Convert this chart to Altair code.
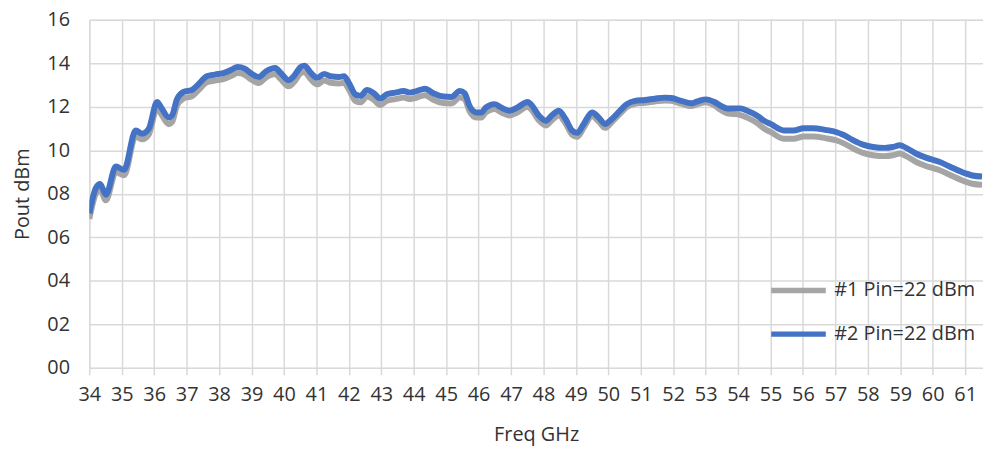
import altair as alt
import pandas as pd

freq = [34.0, 34.2, 34.33, 34.51, 34.82, 35.07, 35.43, 35.63, 35.83, 36.09, 36.2, 36.45, 36.55, 36.7, 36.9,
        37.16, 37.36, 37.62, 37.87, 38.13, 38.38, 38.57, 38.79, 38.97, 39.22, 39.45, 39.73, 39.9, 40.14, 40.3,
        40.52, 40.63, 40.83, 41.03, 41.24, 41.44, 41.7, 41.85, 42.0, 42.2, 42.36, 42.56, 42.77, 42.97, 43.17,
        43.43, 43.69, 43.89, 44.09, 44.35, 44.6, 44.91, 45.16, 45.42, 45.57, 45.72, 45.93, 46.08, 46.23, 46.49,
        46.69, 46.95, 47.2, 47.51, 47.61, 47.86, 48.07, 48.27, 48.47, 48.68, 48.88, 49.04, 49.24, 49.5, 49.7,
        49.9, 50.11, 50.36, 50.57, 50.82, 51.13, 51.43, 51.74, 51.94, 52.25, 52.55, 52.75, 53.01, 53.27, 53.47,
        53.67, 54.08, 54.28, 54.59, 54.8, 55.0, 55.41, 55.71, 56.02, 56.32, 56.68, 57.04, 57.24, 57.55, 57.85,
        58.16, 58.52, 58.77, 58.98, 59.18, 59.48, 59.79, 60.2, 60.6, 61.01, 61.22, 61.52]

pout2 = [7.1, 8.26, 8.45, 7.96, 9.25, 9.1, 10.91, 10.76, 10.98, 12.22, 12.0, 11.51, 11.6, 12.34, 12.68,
         12.77, 13.03, 13.4, 13.48, 13.55, 13.7, 13.83, 13.75, 13.55, 13.37, 13.63, 13.78, 13.55, 13.22, 13.4,
         13.83, 13.89, 13.55, 13.33, 13.51, 13.4, 13.37, 13.4, 13.1, 12.57, 12.5, 12.77, 12.62, 12.38, 12.57,
         12.65, 12.72, 12.65, 12.72, 12.83, 12.62, 12.47, 12.45, 12.72, 12.62, 12.04, 11.74, 11.74, 11.97, 12.12,
         11.97, 11.82, 11.97, 12.22, 12.12, 11.59, 11.36, 11.62, 11.82, 11.44, 10.91, 10.8, 11.21, 11.74, 11.51,
         11.21, 11.44, 11.82, 12.12, 12.27, 12.31, 12.37, 12.42, 12.4, 12.27, 12.16, 12.25, 12.34, 12.22, 12.04,
         11.92, 11.92, 11.82, 11.59, 11.36, 11.21, 10.91, 10.91, 11.01, 11.01, 10.94, 10.83, 10.71, 10.46, 10.26,
         10.15, 10.11, 10.15, 10.23, 10.11, 9.85, 9.66, 9.47, 9.2, 8.94, 8.84, 8.79]

pout1 = [6.85, 8.0, 8.2, 7.7, 9.0, 8.85, 10.65, 10.5, 10.72, 11.93, 11.7, 11.2, 11.3, 12.04, 12.38,
         12.48, 12.75, 13.12, 13.2, 13.27, 13.42, 13.55, 13.47, 13.27, 13.09, 13.35, 13.5, 13.27, 12.94, 13.12,
         13.55, 13.6, 13.26, 13.03, 13.21, 13.1, 13.07, 13.1, 12.8, 12.27, 12.2, 12.47, 12.32, 12.08, 12.27,
         12.35, 12.42, 12.35, 12.42, 12.53, 12.32, 12.17, 12.15, 12.42, 12.35, 11.8, 11.5, 11.5, 11.75, 11.9,
         11.75, 11.6, 11.75, 12.0, 11.9, 11.37, 11.14, 11.4, 11.6, 11.24, 10.72, 10.62, 11.03, 11.56, 11.33,
         11.03, 11.3, 11.68, 11.98, 12.14, 12.18, 12.24, 12.29, 12.27, 12.14, 12.03, 12.12, 12.2, 12.06, 11.85,
         11.7, 11.62, 11.5, 11.25, 11.0, 10.84, 10.53, 10.53, 10.63, 10.63, 10.56, 10.45, 10.33, 10.08, 9.88,
         9.77, 9.73, 9.77, 9.85, 9.73, 9.47, 9.28, 9.09, 8.82, 8.56, 8.46, 8.41]

series_names = ["#1 Pin=22 dBm", "#2 Pin=22 dBm"]
series_colors = ["#A5A5A5", "#4472C4"]
x_ticks = list(range(34, 62))
y_ticks = list(range(0, 17, 2))

df1 = pd.DataFrame({"freq": freq, "pout": pout1, "series": series_names[0]})
df2 = pd.DataFrame({"freq": freq, "pout": pout2, "series": series_names[1]})

FONT = "Open Sans"
TXT = "#333333"
FS = 20

x = alt.X("freq:Q", title="Freq GHz",
          scale=alt.Scale(domain=[34, 61.55], nice=False, zero=False),
          axis=alt.Axis(values=x_ticks, format="d", labelFontSize=FS, titleFontSize=FS,
                        labelColor=TXT, titleColor=TXT, labelFont=FONT, titleFont=FONT,
                        titleFontWeight="normal", domain=False, tickColor="#D9D9D9", tickWidth=1.5,
                        tickSize=7, labelPadding=10, titlePadding=20, gridColor="#D9D9D9",
                        gridWidth=1.5, labelFlush=False, labelOverlap=False))
y = alt.Y("pout:Q", title="Pout dBm",
          scale=alt.Scale(domain=[0, 16], nice=False),
          axis=alt.Axis(values=y_ticks, format="02d", labelFontSize=FS, titleFontSize=FS,
                        labelColor=TXT, titleColor=TXT, labelFont=FONT, titleFont=FONT,
                        titleFontWeight="normal", domain=False, ticks=False, labelPadding=20,
                        titlePadding=14, gridColor="#D9D9D9", gridWidth=1.5))
color = alt.Color("series:N",
                  scale=alt.Scale(domain=series_names, range=series_colors),
                  legend=alt.Legend(title=None, orient="none", legendX=705, legendY=263,
                                    symbolType="M-5.5,0L5.5,0", symbolSize=100, symbolStrokeWidth=5.5,
                                    labelFontSize=FS, labelFont=FONT, labelColor=TXT,
                                    rowPadding=22, padding=0, labelOffset=26))

l1 = alt.Chart(df1).mark_line(strokeWidth=6, interpolate="monotone", clip=True).encode(x=x, y=y, color=color)
l2 = alt.Chart(df2).mark_line(strokeWidth=6, interpolate="monotone", clip=True).encode(x=x, y=y, color=color)

chart = alt.layer(l1, l2).properties(
    width=901, height=351,
    autosize=alt.AutoSizeParams(type="none"),
    padding={"left": 82, "top": 10, "right": 0, "bottom": 80},
).configure_view(stroke=None).configure(background="white")

chart.save("out.html", embed_options={"renderer": "svg", "actions": False})
